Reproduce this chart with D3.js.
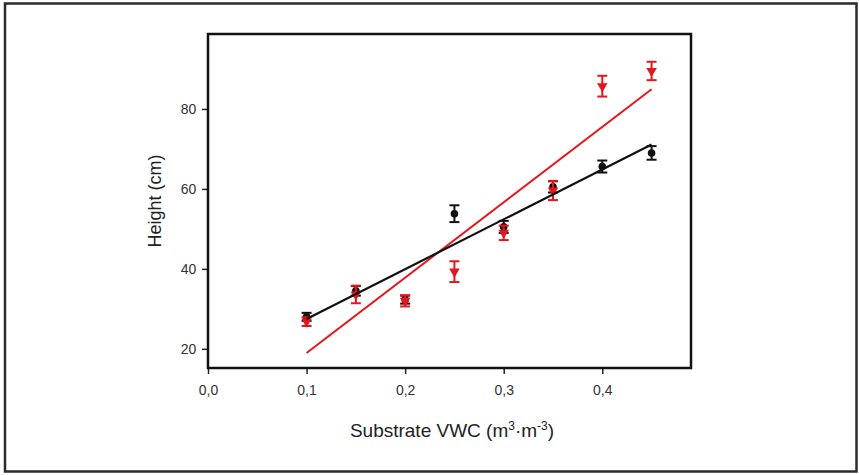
<!DOCTYPE html>
<html><head><meta charset="utf-8">
<script src="https://cdn.jsdelivr.net/npm/d3@7"></script>
<style>html,body{margin:0;padding:0;background:#fff;}svg{display:block;font-family:"Liberation Sans",Arial,sans-serif;}</style>
</head><body>
<svg id="c" width="859" height="475"></svg>
<script>
const vwc = [0.10, 0.15, 0.20, 0.25, 0.30, 0.35, 0.40, 0.45];
const blackMean = [28.0, 34.5, 32.3, 53.8, 50.5, 60.5, 65.6, 69.0];
const blackErr  = [1.0, 1.2, 1.0, 2.1, 1.5, 1.4, 1.5, 1.7];
const redMean   = [26.8, 33.6, 32.0, 39.3, 49.0, 59.6, 85.7, 89.5];
const redErr    = [1.1, 2.2, 1.4, 2.6, 1.8, 2.4, 2.6, 2.3];
const xTicks = [0.0, 0.1, 0.2, 0.3, 0.4];
const yTicks = [20, 40, 60, 80];

const svg = d3.select("#c");
const RED = "#e3171c";
// outer frame
svg.append("rect").attr("x",5).attr("y",3.5).attr("width",851.5).attr("height",468)
  .attr("fill","none").attr("stroke","#2b2b2b").attr("stroke-width",2.5);

const L=208, R=691, T=34, B=368;
const x = d3.scaleLinear().domain([0,0.49]).range([L,R]);
const y = d3.scaleLinear().domain([15.2,98.75]).range([B,T]);
const fmt = d3.formatLocale({decimal:",",thousands:".",grouping:[3],currency:["",""]}).format(".1f");

// axes
const gx = svg.append("g").attr("transform",`translate(0,${B})`)
  .call(d3.axisBottom(x).tickValues(xTicks).tickFormat(fmt).tickSize(6).tickSizeOuter(0));
const gy = svg.append("g").attr("transform",`translate(${L},0)`)
  .call(d3.axisLeft(y).tickValues(yTicks).tickSize(6).tickSizeOuter(0));
[gx,gy].forEach(g=>{
  g.select(".domain").remove();
  g.selectAll(".tick line").attr("stroke","#222").attr("stroke-width",1.5);
  g.selectAll(".tick text").attr("fill","#333").style("font-size","14px");
});
gx.selectAll(".tick text").attr("dy","1.25em");
gy.selectAll(".tick text").attr("dx","-0.2em");

// plot frame
svg.append("rect").attr("x",L).attr("y",T).attr("width",R-L).attr("height",B-T)
  .attr("fill","none").attr("stroke","#111").attr("stroke-width",2.5);

// regression
function fit(xs, ys){
  const mx=d3.mean(xs), my=d3.mean(ys);
  let sxy=0,sxx=0;
  xs.forEach((v,i)=>{sxy+=(v-mx)*(ys[i]-my); sxx+=(v-mx)*(v-mx);});
  const b=sxy/sxx, a=my-b*mx;
  return v=>a+b*v;
}
const xr=[d3.min(vwc), d3.max(vwc)];
const line=d3.line().x(d=>x(d[0])).y(d=>y(d[1]));
const fb=fit(vwc,blackMean), fr=fit(vwc,redMean);

function errBars(means, errs, color){
  const g=svg.append("g").attr("stroke",color).attr("stroke-width",2);
  vwc.forEach((v,i)=>{
    const cx=x(v), y1=y(means[i]-errs[i]), y2=y(means[i]+errs[i]);
    g.append("line").attr("x1",cx).attr("x2",cx).attr("y1",y1).attr("y2",y2);
    g.append("line").attr("x1",cx-5).attr("x2",cx+5).attr("y1",y1).attr("y2",y1);
    g.append("line").attr("x1",cx-5).attr("x2",cx+5).attr("y1",y2).attr("y2",y2);
  });
}
// black series
errBars(blackMean, blackErr, "#111");
svg.append("g").selectAll("circle").data(vwc).join("circle")
  .attr("cx",d=>x(d)).attr("cy",(d,i)=>y(blackMean[i])).attr("r",3.8).attr("fill","#111");
// red series
errBars(redMean, redErr, RED);
const tri=d3.symbol().type(d3.symbolTriangle).size(48);
svg.append("g").selectAll("path").data(vwc).join("path")
  .attr("d",tri).attr("fill",RED)
  .attr("transform",(d,i)=>`translate(${x(d)},${y(redMean[i])}) rotate(180)`);

svg.append("path").datum(xr.map(v=>[v,fr(v)])).attr("d",line)
  .attr("stroke",RED).attr("stroke-width",2).attr("fill","none");
svg.append("path").datum(xr.map(v=>[v,fb(v)])).attr("d",line)
  .attr("stroke","#111").attr("stroke-width",2.2).attr("fill","none");

// labels
svg.append("text").attr("transform","translate(161,201) rotate(-90)")
  .attr("text-anchor","middle").attr("fill","#222").style("font-size","18px").text("Height (cm)");
const xl=svg.append("text").attr("x",452).attr("y",437).attr("text-anchor","middle")
  .attr("fill","#222").style("font-size","19px");
xl.append("tspan").text("Substrate VWC (m");
xl.append("tspan").attr("dy",-7).style("font-size","12px").text("3");
xl.append("tspan").attr("dy",7).text("·m");
xl.append("tspan").attr("dy",-7).style("font-size","12px").text("-3");
xl.append("tspan").attr("dy",7).text(")");
</script>
</body></html>
